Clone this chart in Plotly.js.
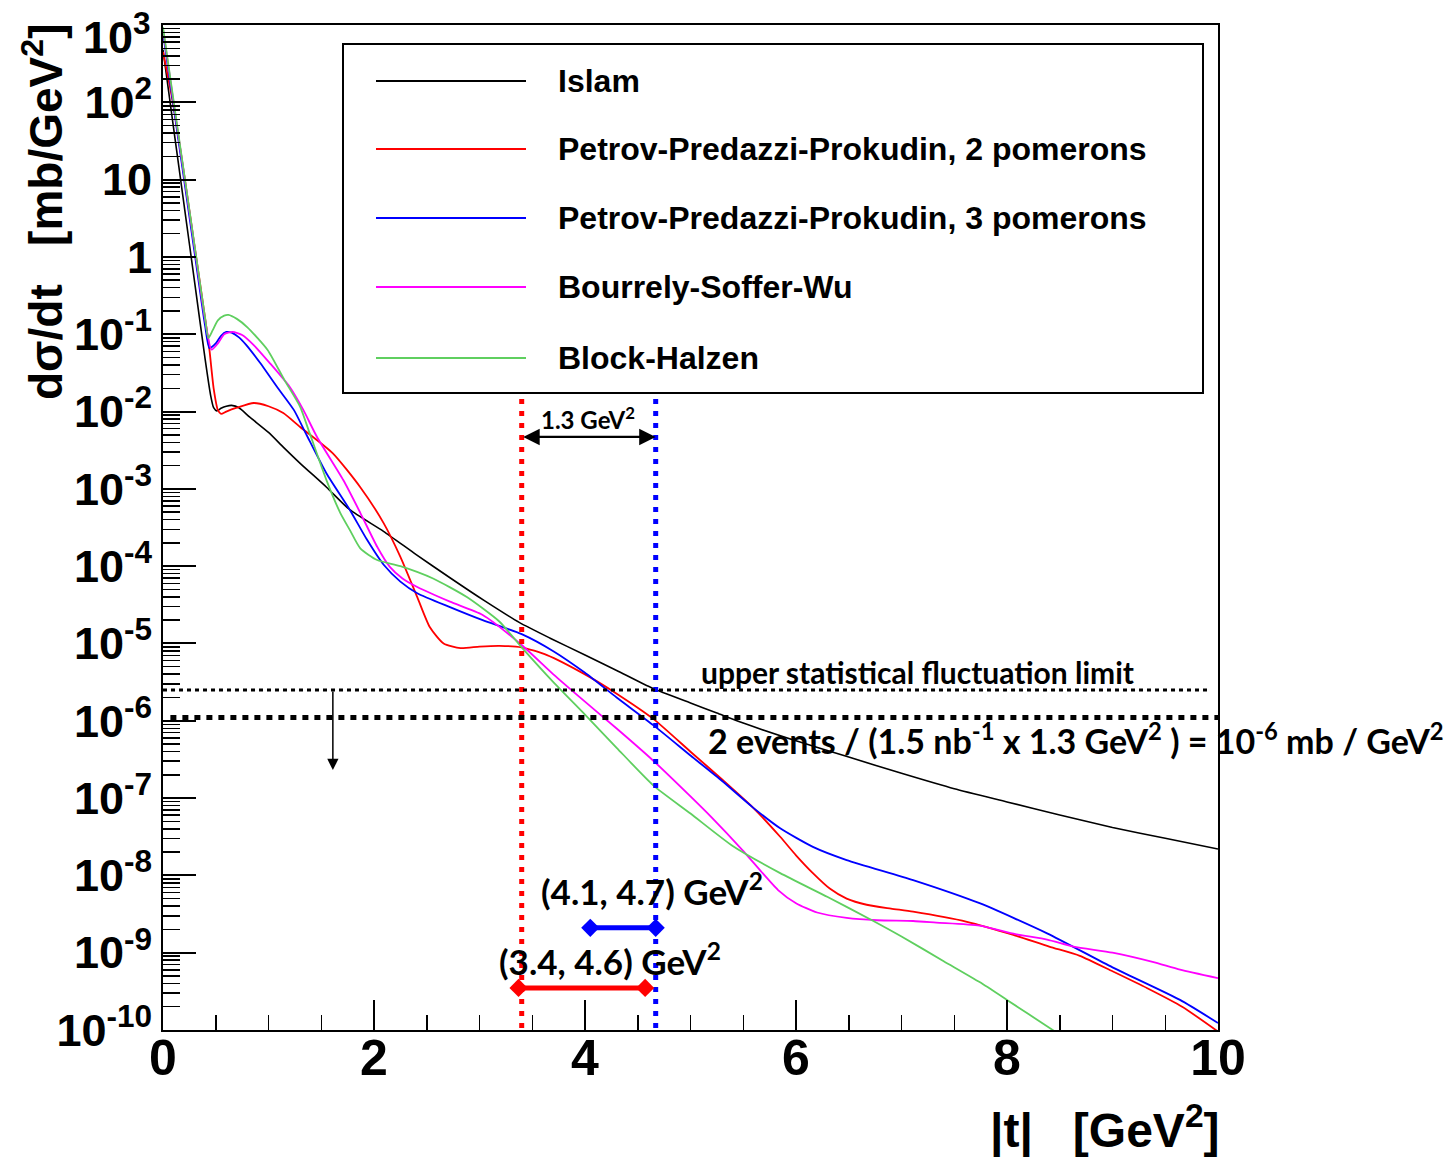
<!DOCTYPE html>
<html><head><meta charset="utf-8">
<script src="https://cdn.plot.ly/plotly-3.0.1.min.js"></script>
<style>html,body{margin:0;padding:0;background:#fff}#chart{width:1449px;height:1157px}</style>
</head><body><div id="chart"></div>
<script>
// ---- data (|t| in GeV^2, dsigma/dt in mb/GeV^2) ----
const seriesNames = ['Islam', 'Petrov-Predazzi-Prokudin, 2 pomerons', 'Petrov-Predazzi-Prokudin, 3 pomerons', 'Bourrely-Soffer-Wu', 'Block-Halzen'];

const islamT = [0, 0.1, 0.2, 0.3, 0.4, 0.45, 0.48, 0.51, 0.55, 0.6, 0.65, 0.72, 0.82, 1.0, 1.14, 1.3, 1.55, 1.77, 2.09, 2.4, 2.72, 3.05, 3.38, 3.67, 4.0, 4.3, 4.64, 5.0, 5.25, 5.5, 6.0, 6.5, 7.0, 7.5, 8.0, 8.5, 9.0, 9.5, 10];
const islamY = [480, 46.8, 4.68, 0.468, 0.0468, 0.0166, 0.0112, 0.0102, 0.0110, 0.0117, 0.0120, 0.0112, 0.00851, 0.00537, 0.00347, 0.00214, 0.00105, 5.37e-4, 2.82e-4, 1.41e-4, 7.08e-5, 3.55e-5, 1.86e-5, 1.17e-5, 7.08e-6, 4.47e-6, 2.63e-6, 1.70e-6, 1.26e-6, 9.33e-7, 5.50e-7, 3.39e-7, 2.09e-7, 1.32e-7, 8.91e-8, 6.03e-8, 4.17e-8, 3.02e-8, 2.19e-8];

const ppp2T = [0, 0.1, 0.2, 0.3, 0.4, 0.44, 0.48, 0.52, 0.55, 0.6, 0.7, 0.86, 1.0, 1.14, 1.3, 1.61, 1.87, 2.09, 2.25, 2.41, 2.53, 2.66, 2.82, 3.0, 3.19, 3.4, 3.64, 4.0, 4.3, 4.65, 5.0, 5.3, 5.59, 5.85, 6.0, 6.16, 6.32, 6.48, 6.67, 6.9, 7.11, 7.62, 8.06, 8.4, 8.69, 9.0, 9.33, 9.66, 10];
const ppp2Y = [447, 89.1, 11.7, 1.35, 0.158, 0.0631, 0.0200, 0.0105, 0.00933, 0.0100, 0.0112, 0.0129, 0.0117, 0.00955, 0.00631, 0.00288, 0.00105, 3.63e-4, 1.32e-4, 3.98e-5, 1.62e-5, 1.00e-5, 8.71e-6, 9.12e-6, 9.33e-6, 8.91e-6, 7.08e-6, 3.98e-6, 2.24e-6, 1.05e-6, 3.98e-7, 1.74e-7, 7.59e-8, 3.16e-8, 1.82e-8, 1.07e-8, 6.76e-9, 5.01e-9, 4.17e-9, 3.72e-9, 3.39e-9, 2.51e-9, 1.70e-9, 1.20e-9, 9.12e-10, 5.75e-10, 3.47e-10, 2.00e-10, 9.55e-11];

const ppp3T = [0, 0.1, 0.2, 0.3, 0.4, 0.44, 0.5, 0.55, 0.6, 0.65, 0.72, 0.79, 0.92, 1.08, 1.24, 1.36, 1.55, 1.77, 1.93, 2.09, 2.25, 2.41, 2.72, 3.03, 3.4, 3.7, 4.0, 4.3, 4.65, 5.0, 5.3, 5.59, 5.85, 6.16, 6.48, 7.11, 7.74, 8.38, 9.0, 9.64, 10];
const ppp3Y = [794, 89.1, 10.0, 1.12, 0.126, 0.0661, 0.0759, 0.0955, 0.107, 0.105, 0.0912, 0.0724, 0.0427, 0.0209, 0.0105, 0.00501, 0.00158, 5.37e-4, 2.24e-4, 1.05e-4, 6.31e-5, 4.47e-5, 2.95e-5, 2.00e-5, 1.32e-5, 7.94e-6, 4.17e-6, 2.00e-6, 8.71e-7, 3.55e-7, 1.66e-7, 7.59e-8, 4.07e-8, 2.34e-8, 1.58e-8, 8.71e-9, 4.37e-9, 1.78e-9, 6.46e-10, 2.45e-10, 1.23e-10];

const bswT = [0, 0.1, 0.2, 0.3, 0.4, 0.46, 0.52, 0.58, 0.66, 0.75, 0.86, 1.01, 1.2, 1.33, 1.46, 1.71, 1.87, 2.03, 2.15, 2.27, 2.41, 2.72, 3.03, 3.4, 3.7, 3.98, 4.3, 4.65, 5.0, 5.2, 5.49, 5.83, 6.0, 6.2, 6.48, 6.77, 7.11, 7.33, 7.74, 8.08, 8.38, 8.63, 9.0, 9.38, 9.64, 10];
const bswY = [891, 100, 11.5, 1.32, 0.151, 0.0631, 0.0759, 0.100, 0.107, 0.0977, 0.0724, 0.0427, 0.0209, 0.0105, 0.00468, 0.00129, 4.90e-4, 1.78e-4, 9.77e-5, 6.92e-5, 5.37e-5, 3.47e-5, 2.34e-5, 9.55e-6, 3.98e-6, 1.86e-6, 7.94e-7, 3.02e-7, 1.05e-7, 5.62e-8, 2.14e-8, 6.46e-9, 4.37e-9, 3.31e-9, 2.82e-9, 2.63e-9, 2.57e-9, 2.45e-9, 2.24e-9, 1.74e-9, 1.48e-9, 1.20e-9, 1.00e-9, 7.59e-10, 6.03e-10, 4.68e-10];

const bhT = [0, 0.1, 0.2, 0.3, 0.4, 0.43, 0.47, 0.52, 0.58, 0.62, 0.7, 0.8, 0.99, 1.15, 1.3, 1.39, 1.55, 1.68, 1.77, 1.87, 2.03, 2.25, 2.56, 2.88, 3.19, 3.4, 3.7, 4.0, 4.3, 4.65, 5.0, 5.4, 5.85, 6.3, 6.72, 7.0, 7.4, 7.74, 8.0, 8.2, 8.5];
const bhY = [933, 105, 12.0, 1.38, 0.158, 0.0891, 0.112, 0.151, 0.174, 0.178, 0.158, 0.123, 0.0631, 0.0257, 0.0115, 0.00525, 0.00129, 4.90e-4, 2.95e-4, 1.70e-4, 1.20e-4, 1.00e-4, 6.92e-5, 3.98e-5, 1.91e-5, 8.91e-6, 3.16e-6, 1.20e-6, 4.47e-7, 1.45e-7, 6.31e-8, 2.40e-8, 1.07e-8, 5.25e-9, 2.63e-9, 1.62e-9, 7.76e-10, 4.17e-10, 2.45e-10, 1.62e-10, 8.71e-11];

// reference markers
const tMinPPP2 = 3.4;          // red vertical line
const tMinPPP3 = 4.67;         // blue vertical line
const vLineY = [0.0145, 1e-10];
const limitEvents = 1.1e-6;    // 2 events / (1.5 nb^-1 x 1.3 GeV^2)
const limitUpper = 2.5e-6;     // upper statistical fluctuation limit
const rangePPP3T = [4.05, 4.67], rangePPP3Y = 2.1e-9;
const rangePPP2T = [3.37, 4.57], rangePPP2Y = 3.5e-10;
const arrowGapY = 0.0047;      // level of the 1.3 GeV^2 double arrow
const arrowDownT = 1.61, arrowDownY = 2.3e-7;

const yTickVals = [1e3, 1e2, 1e1, 1, 1e-1, 1e-2, 1e-3, 1e-4, 1e-5, 1e-6, 1e-7, 1e-8, 1e-9, 1e-10];
const yTickText = ['', '10<sup>2</sup>', '10', '1', '10<sup>-1</sup>', '10<sup>-2</sup>', '10<sup>-3</sup>', '10<sup>-4</sup>', '10<sup>-5</sup>', '10<sup>-6</sup>', '10<sup>-7</sup>', '10<sup>-8</sup>', '10<sup>-9</sup>', '10<sup>-10</sup>'];
const yTopLabel = '10<sup>3</sup>';
const xTickVals = [0, 2, 4, 6, 8, 10];

// ---- styling ----
const colors = ['#000000', '#ff0000', '#0000ff', '#ff00ff', '#5fcf5f'];
const W = 1449, H = 1157, ML = 163, MR = 231, MT = 25, MB = 127;
const px = x => (x - ML) / (W - ML - MR);
const py = y => (H - MB - y) / (H - MT - MB);
const AX = 'Liberation Sans';
const TX = 'Lato';

const curveT = [islamT, ppp2T, ppp3T, bswT, bhT];
const curveY = [islamY, ppp2Y, ppp3Y, bswY, bhY];
const traces = curveT.map((t, i) => ({
  x: t, y: curveY[i], type: 'scatter', mode: 'lines', name: seriesNames[i],
  line: {color: colors[i], width: i === 0 ? 1.6 : 1.8, shape: 'spline', smoothing: 0.6},
  showlegend: false, hoverinfo: 'skip'
}));

traces.push({x: [tMinPPP2, tMinPPP2], y: vLineY, mode: 'lines', line: {color: '#ff0000', width: 5, dash: '5px,7px'}, showlegend: false, hoverinfo: 'skip'});
traces.push({x: [tMinPPP3, tMinPPP3], y: vLineY, mode: 'lines', line: {color: '#0000ff', width: 5, dash: '5px,7px'}, showlegend: false, hoverinfo: 'skip'});
traces.push({x: [0, 9.9], y: [limitUpper, limitUpper], mode: 'lines', line: {color: '#000000', width: 3, dash: '4px,4px'}, showlegend: false, hoverinfo: 'skip'});
traces.push({x: [0.07, 10], y: [limitEvents, limitEvents], mode: 'lines', line: {color: '#000000', width: 5, dash: '6px,6px'}, showlegend: false, hoverinfo: 'skip'});
traces.push({x: rangePPP3T, y: [rangePPP3Y, rangePPP3Y], mode: 'lines+markers', line: {color: '#0000ff', width: 5}, marker: {symbol: 'diamond', size: 14, color: '#0000ff'}, showlegend: false, hoverinfo: 'skip', cliponaxis: false});
traces.push({x: rangePPP2T, y: [rangePPP2Y, rangePPP2Y], mode: 'lines+markers', line: {color: '#ff0000', width: 5}, marker: {symbol: 'diamond', size: 14, color: '#ff0000'}, showlegend: false, hoverinfo: 'skip', cliponaxis: false});

const minorY = [];
for (let k = -10; k < 3; k++) for (let m = 2; m <= 9; m++) minorY.push(m * Math.pow(10, k));

// legend (drawn by hand to match the reference box)
const legRows = [81, 149, 218, 287, 358];
const shapes = [{type: 'rect', xref: 'paper', yref: 'paper', x0: px(343), x1: px(1203), y0: py(393), y1: py(44), line: {color: '#000', width: 2}, fillcolor: '#fff', layer: 'above'}];
legRows.forEach((r, i) => shapes.push({type: 'line', xref: 'paper', yref: 'paper', x0: px(376), x1: px(526), y0: py(r), y1: py(r), line: {color: colors[i], width: 1.8}, layer: 'above'}));

const annotations = legRows.map((r, i) => ({
  xref: 'paper', yref: 'paper', x: px(556), y: py(r), xanchor: 'left', yanchor: 'middle', showarrow: false,
  text: seriesNames[i], font: {family: AX, size: 32, weight: 'bold', color: '#000'}
}));

const txt = (s, x, y, size) => ({xref: 'paper', yref: 'paper', x: px(x), y: py(y), xanchor: 'left', yanchor: 'middle', showarrow: false, text: s, font: {family: TX, size: size, weight: 'bold', color: '#000'}});
annotations.push(txt('upper statistical fluctuation limit', 699, 672, 30));
annotations.push(txt('2 events / (1.5 nb<sup>-1</sup> x 1.3 GeV<sup>2</sup> ) = 10<sup>-6</sup> mb / GeV<sup>2</sup>', 706, 739, 34));
annotations.push(txt('(4.1, 4.7) GeV<sup>2</sup>', 539, 889, 35));
annotations.push(txt('(3.4, 4.6) GeV<sup>2</sup>', 497, 959, 35));
annotations.push(txt('1.3 GeV<sup>2</sup>', 539, 418, 24));

// top y tick label placed by hand so that its superscript stays inside the page
annotations.push({xref: 'paper', yref: 'paper', x: px(153), y: py(3), xanchor: 'right', yanchor: 'top', showarrow: false,
  text: yTopLabel, font: {family: AX, size: 45, weight: 'bold', color: '#000'}});

// arrows
annotations.push({xref: 'x', yref: 'y', axref: 'x', ayref: 'y', x: tMinPPP3, y: Math.log10(arrowGapY), ax: tMinPPP2, ay: Math.log10(arrowGapY), text: '', showarrow: true, arrowside: 'end+start', arrowhead: 2, arrowsize: 1.5, arrowwidth: 2.2, arrowcolor: '#000'});
annotations.push({xref: 'x', yref: 'y', x: arrowDownT, y: Math.log10(arrowDownY), ax: 0, ay: -80, text: '', showarrow: true, arrowhead: 2, arrowsize: 1.5, arrowwidth: 1.5, arrowcolor: '#000'});

// axis titles
annotations.push({xref: 'paper', yref: 'paper', x: px(43), y: py(212), xanchor: 'center', yanchor: 'middle', textangle: -90, showarrow: false,
  text: 'dσ/dt\u00a0\u00a0\u00a0[mb/GeV<sup>2</sup>]', font: {family: AX, size: 46, weight: 'bold', color: '#000'}});
annotations.push({xref: 'paper', yref: 'paper', x: px(1222), y: py(1127), xanchor: 'right', yanchor: 'middle', showarrow: false,
  text: '|t|\u00a0\u00a0\u00a0[GeV<sup>2</sup>]', font: {family: AX, size: 48, weight: 'bold', color: '#000'}});

const layout = {
  width: W, height: H, margin: {l: ML, r: MR, t: MT, b: MB, pad: 0},
  paper_bgcolor: '#fff', plot_bgcolor: '#fff', showlegend: false,
  xaxis: {type: 'linear', range: [0, 10], tickvals: xTickVals, ticktext: xTickVals.map(String),
    showline: true, linecolor: '#000', linewidth: 2, mirror: true, showgrid: false, zeroline: false,
    ticks: 'inside', ticklen: 30, tickwidth: 2, tickcolor: '#000', ticklabelstandoff: -17, ticklabeloverflow: 'allow',
    minor: {dtick: 0.5, tick0: 0, ticks: 'inside', ticklen: 15, tickwidth: 1.5, tickcolor: '#000', showgrid: false},
    tickfont: {family: AX, size: 50, weight: 'bold', color: '#000'}},
  yaxis: {type: 'log', range: [-10, 3], tickvals: yTickVals, ticktext: yTickText,
    showline: true, linecolor: '#000', linewidth: 2, mirror: true, showgrid: false, zeroline: false,
    ticks: 'inside', ticklen: 33, tickwidth: 2, tickcolor: '#000', ticklabeloverflow: 'allow',
    minor: {tickvals: minorY, ticks: 'inside', ticklen: 17, tickwidth: 1.5, tickcolor: '#000', showgrid: false},
    tickfont: {family: AX, size: 45, weight: 'bold', color: '#000'}},
  shapes: shapes, annotations: annotations
};

Plotly.newPlot('chart', traces, layout, {staticPlot: true, displayModeBar: false});
</script></body></html>
